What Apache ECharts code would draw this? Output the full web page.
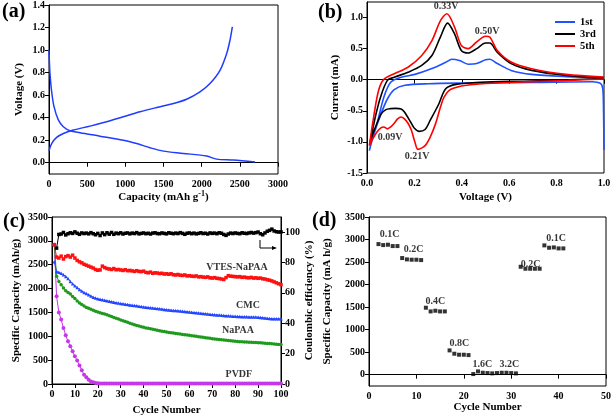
<!DOCTYPE html>
<html><head><meta charset="utf-8">
<script src="https://cdn.jsdelivr.net/npm/echarts@6/dist/echarts.min.js"></script>
<style>html,body{margin:0;padding:0;background:#fff}#c{width:614px;height:418px}</style>
</head><body><div id="c"></div>
<script>
// ---------- Panel (a): charge/discharge profile ----------
const aDisCap = [0, 5, 13, 35, 65, 122, 188, 275, 406, 668, 974, 1148, 1323, 1498, 1760, 2066, 2197, 2415, 2699];
const aDisV   = [1.0, 0.90, 0.79, 0.63, 0.50, 0.38, 0.32, 0.284, 0.266, 0.236, 0.20, 0.17, 0.133, 0.103, 0.083, 0.059, 0.032, 0.024, 0.006];
const aChCap  = [0, 35, 100, 188, 319, 537, 755, 974, 1192, 1410, 1629, 1803, 1978, 2109, 2240, 2328, 2371, 2402];
const aChV    = [0.106, 0.17, 0.225, 0.26, 0.29, 0.325, 0.363, 0.408, 0.452, 0.49, 0.526, 0.564, 0.629, 0.703, 0.82, 0.97, 1.087, 1.205];
const aYTicks = [0, 0.2, 0.4, 0.6, 0.8, 1.0, 1.2, 1.4];

// ---------- Panel (b): cyclic voltammetry ----------
const b1V = [1.0, 0.998, 0.995, 0.985, 0.95, 0.7, 0.4, 0.26, 0.16, 0.115, 0.086, 0.057, 0.028, 0.01,
             0.02, 0.042, 0.071, 0.1, 0.144, 0.202, 0.274, 0.332, 0.358, 0.39, 0.427, 0.463, 0.5, 0.518, 0.55, 0.608, 0.695, 0.84, 1.0];
const b1I = [-1.13, -0.5, -0.15, -0.06, -0.032, -0.043, -0.054, -0.064, -0.09, -0.16, -0.31, -0.57, -0.89, -1.14,
             -0.98, -0.71, -0.28, -0.04, 0.04, 0.086, 0.18, 0.28, 0.33, 0.31, 0.25, 0.26, 0.32, 0.33, 0.26, 0.15, 0.086, 0.05, 0.03];
const b3V = [1.0, 0.695, 0.477, 0.376, 0.332, 0.303, 0.267, 0.245, 0.22, 0.2, 0.187, 0.158, 0.144, 0.12, 0.10, 0.08, 0.06, 0.04, 0.02, 0.012,
             0.035, 0.057, 0.086, 0.115, 0.173, 0.231, 0.274, 0.31, 0.34, 0.369, 0.398, 0.427, 0.463, 0.5, 0.518, 0.55, 0.608, 0.695, 0.84, 1.0];
const b3I = [0.02, -0.02, -0.04, -0.075, -0.145, -0.39, -0.65, -0.80, -0.83, -0.78, -0.70, -0.52, -0.47, -0.46, -0.465, -0.48, -0.55, -0.72, -0.92, -1.03,
             -0.60, -0.28, -0.01, 0.04, 0.12, 0.23, 0.39, 0.69, 0.91, 0.74, 0.47, 0.43, 0.50, 0.59, 0.59, 0.44, 0.26, 0.15, 0.07, 0.03];
const b5V = [1.0, 0.85, 0.695, 0.50, 0.45, 0.39, 0.347, 0.325, 0.31, 0.289, 0.267, 0.245, 0.215, 0.202, 0.187, 0.173, 0.158, 0.144, 0.129, 0.115, 0.10, 0.086, 0.071, 0.06, 0.042, 0.02, 0.01,
             0.028, 0.049, 0.071, 0.115, 0.173, 0.231, 0.274, 0.31, 0.337, 0.369, 0.398, 0.427, 0.463, 0.5, 0.518, 0.55, 0.608, 0.695, 0.84, 1.0];
const b5I = [0.012, -0.01, -0.03, -0.06, -0.075, -0.11, -0.17, -0.28, -0.44, -0.71, -0.92, -1.06, -1.12, -1.0, -0.81, -0.70, -0.63, -0.60, -0.63, -0.70, -0.76, -0.79, -0.76, -0.77, -0.84, -0.98, -1.06,
             -0.60, -0.17, 0.005, 0.096, 0.20, 0.39, 0.63, 0.95, 1.06, 0.85, 0.55, 0.50, 0.61, 0.70, 0.686, 0.47, 0.284, 0.177, 0.086, 0.043];
const bYTicks = [-1.5, -1.0, -0.5, 0, 0.5, 1.0];
const bNotes = ['0.33V', '0.50V', '0.09V', '0.21V'];
const bNoteV = [0.334, 0.507, 0.097, 0.211];
const bNoteI = [1.18, 0.78, -0.925, -1.23];

// ---------- Panel (c): cycling of binders ----------
const cVTES = [2920,2660,2640,2680,2620,2670,2690,2660,2700,2640,2590,2560,2540,2510,2490,2470,2450,2430,2400,2385,
  2390,2470,2440,2420,2410,2400,2420,2395,2400,2390,2380,2395,2375,2380,2370,2360,2375,2360,2355,2365,
  2340,2330,2345,2320,2330,2325,2315,2320,2305,2310,2300,2310,2290,2285,2295,2280,2275,2285,2265,2270,
  2260,2255,2265,2245,2250,2240,2235,2245,2225,2220,2230,2215,2210,2200,2190,2230,2270,2260,2255,2250,
  2245,2250,2235,2240,2230,2225,2235,2220,2225,2215,2220,2205,2200,2185,2175,2160,2140,2120,2100,2080];
const cCMC = [2560,2360,2340,2320,2290,2255,2210,2150,2100,2060,2020,1980,1950,1920,1895,1870,1845,1820,1800,1785,
  1775,1765,1755,1745,1735,1725,1715,1705,1695,1685,1680,1672,1665,1658,1650,1645,1638,1630,1622,1615,
  1610,1603,1598,1592,1586,1580,1575,1570,1563,1557,1553,1548,1543,1538,1533,1528,1524,1518,1513,1508,
  1503,1498,1494,1488,1483,1478,1472,1467,1460,1455,1452,1448,1444,1440,1436,1432,1428,1425,1421,1418,
  1416,1414,1412,1410,1408,1406,1405,1404,1402,1400,1396,1390,1384,1378,1372,1368,1366,1368,1365,1368];
const cNaPAA = [2920,2260,2150,2080,2010,1955,1920,1885,1835,1790,1740,1700,1665,1635,1605,1585,1565,1545,1525,1508,
  1495,1480,1465,1450,1432,1415,1395,1378,1360,1342,1325,1308,1292,1275,1258,1243,1228,1213,1200,1187,
  1176,1166,1157,1148,1138,1128,1118,1108,1098,1089,1081,1074,1067,1060,1053,1047,1040,1033,1026,1020,
  1013,1006,999,992,985,978,971,964,957,950,944,938,932,926,920,915,910,905,899,894,
  891,888,885,882,879,876,873,870,868,866,862,858,855,851,847,843,839,835,830,826];
const cPVDF = [2920,1840,1500,1350,1175,1020,895,790,685,580,490,390,290,195,140,90,55,35,22,15,
  12,11,12,10,11,12,10,11,10,12,11,10,11,12,10,11,10,11,12,10,
  11,10,12,11,10,11,10,12,11,10,11,12,10,11,10,11,12,10,11,10,
  12,11,10,11,10,12,11,10,11,12,10,11,10,11,12,10,11,10,12,11,
  10,11,12,10,11,10,11,12,10,11,10,12,11,10,11,10,12,11,10,11];
const cCE = [null,89.5,98.5,98.8,99.8,98.2,99.0,99.6,99.2,100.2,99.3,98.6,99.5,99.1,99.4,98.9,99.7,99.0,98.3,99.2,
  97.8,99.5,98.4,99.6,98.7,99.8,98.6,99.4,99.0,99.6,98.8,99.3,99.5,98.9,99.4,99.1,99.7,98.9,99.2,99.5,
  99.0,99.3,98.8,99.4,99.6,99.1,99.0,99.5,99.2,98.9,99.6,99.3,99.0,99.4,99.1,99.7,99.2,98.6,99.3,99.5,
  99.0,99.4,98.9,99.2,99.6,99.1,99.3,98.8,99.5,99.2,99.4,99.0,99.6,99.3,98.5,97.9,98.8,99.4,99.1,99.5,
  99.2,99.0,99.6,99.3,99.1,99.5,99.8,99.4,99.7,100.1,99.0,98.3,99.5,100.6,101.2,102.0,100.8,100.3,100.1,100.2];
const cYTicks = [0, 500, 1000, 1500, 2000, 2500, 3000, 3500];
const cY2Ticks = [0, 20, 40, 60, 80, 100];
const cNotes = ['VTES-NaPAA', 'CMC', 'NaPAA', 'PVDF'];
const cNoteX = [80.8, 85.6, 81.2, 81.6];
const cNoteY = [2443, 1641, 1117, 195];

// ---------- Panel (d): rate capability ----------
const dCycle = [2,3,4,5,6,7,8,9,10,11,12,13,14,15,16,17,18,19,20,21,22,23,24,25,26,27,28,29,30,31,32,33,34,35,36,37,38,39,40,41];
const dCap = [2899,2877,2885,2855,2855,2589,2559,2552,2552,2544,1487,1405,1420,1405,1405,540,466,444,444,436,
  15,74,44,37,30,37,44,44,37,30,2396,2352,2352,2352,2352,2870,2818,2825,2803,2803];
const dYTicks = [0, 500, 1000, 1500, 2000, 2500, 3000, 3500];
const dNotes = ['0.1C', '0.2C', '0.4C', '0.8C', '1.6C', '3.2C', '0.2C', '0.1C'];
const dNoteX = [4.35, 9.4, 14.0, 19.05, 23.9, 29.6, 34.1, 39.5];
const dNoteY = [3107, 2790, 1627, 703, 237, 237, 2441, 3018];

// ---------- build ----------
const FONT = 'Liberation Serif';
const zip = (xs, ys) => xs.map((x, i) => [x, ys[i]]);
const idx = arr => arr.map((v, i) => [i + 1, v]);
const notes = (n, xs, ys) => n.map((t, i) => ({ name: t, value: [xs[i], ys[i]] }));
const lbl = { fontFamily: FONT, fontWeight: 'bold', fontSize: 10, color: '#000' };
const nameStyle = { fontFamily: FONT, fontWeight: 'bold', fontSize: 11, color: '#000' };
const line = { show: true, lineStyle: { color: '#000', width: 1 } };
const tick = { show: true, inside: false, length: 4, lineStyle: { color: '#000' } };
const f1 = v => Number(v).toFixed(1);
const f0 = v => String(Math.round(v));

function xAx(grid, min, max, interval, name, gap, fmt) {
  return { type: 'value', gridIndex: grid, min, max, interval, name, nameLocation: 'middle', nameGap: gap,
    nameTextStyle: nameStyle, axisLine: line, axisTick: tick, splitLine: { show: false },
    axisLabel: Object.assign({ margin: 5, formatter: fmt || f0 }, lbl) };
}
function yAx(grid, min, max, ticks, name, gap, fmt, pos) {
  return { type: 'value', gridIndex: grid, min, max, position: pos || 'left', name, nameLocation: 'middle', nameGap: gap,
    nameRotate: 90, nameTextStyle: nameStyle, axisLine: line,
    axisTick: Object.assign({ customValues: ticks }, tick), splitLine: { show: false },
    axisLabel: Object.assign({ margin: 4, customValues: ticks, formatter: fmt || f0 }, lbl) };
}
const noteSeries = (xi, yi, data) => ({ type: 'scatter', xAxisIndex: xi, yAxisIndex: yi, symbolSize: 0, data,
  label: Object.assign({ show: true, position: 'inside', formatter: p => p.name }, lbl), z: 10 });

const option = {
  animation: false,
  grid: [
    { left: 49, top: 5, width: 229, height: 169, show: true, borderColor: '#000', borderWidth: 1 },
    { left: 367, top: 2, width: 237, height: 171, show: true, borderColor: '#000', borderWidth: 1 },
    { left: 52, top: 217, width: 229, height: 167, show: true, borderColor: '#000', borderWidth: 1 },
    { left: 369, top: 217, width: 238, height: 169, show: true, borderColor: '#000', borderWidth: 1 }
  ],
  xAxis: [
    Object.assign(xAx(0, 0, 3000, 500, '{n|Capacity (mAh g}{s|-1}{n|)}', 14), {
      nameTextStyle: { rich: { n: nameStyle, s: Object.assign({}, nameStyle, { fontSize: 8, padding: [0, 0, 7, 0] }) } } }),
    xAx(1, 0, 1, 0.2, 'Voltage (V)', 19, f1),
    xAx(2, 0, 100, 10, 'Cycle Number', 21),
    xAx(3, 0, 50, 10, 'Cycle Number', 15)
  ],
  yAxis: [
    yAx(0, -0.1, 1.4, aYTicks, 'Voltage (V)', 24, f1),
    yAx(1, -1.5, 1.25, bYTicks, 'Current (mA)', 26, f1),
    yAx(2, 0, 3500, cYTicks, 'Specific Capacity (mAh/g)', 30),
    yAx(2, 0, 110, cY2Ticks, 'Coulombic efficiency (%)', 21, undefined, 'right'),
    yAx(3, -250, 3500, dYTicks, 'Specific Capacity (mA h/g)', 36)
  ],
  legend: {
    data: ['1st', '3rd', '5th'], orient: 'vertical', left: 550, top: 11, itemGap: 0,
    itemWidth: 20, itemHeight: 2, icon: 'rect',
    textStyle: Object.assign({ lineHeight: 12 }, lbl, { fontSize: 10.5 })
  },
  graphic: [
    { type: 'text', left: 2, top: 2, style: { text: '(a)', font: 'bold 20px "Liberation Serif"', fill: '#000' } },
    { type: 'text', left: 318, top: 3, style: { text: '(b)', font: 'bold 20px "Liberation Serif"', fill: '#000' } },
    { type: 'text', left: 3, top: 212, style: { text: '(c)', font: 'bold 20px "Liberation Serif"', fill: '#000' } },
    { type: 'text', left: 312, top: 211, style: { text: '(d)', font: 'bold 20px "Liberation Serif"', fill: '#000' } },
    { type: 'polyline', shape: { points: [[260, 240], [260, 248], [274, 248]] }, style: { stroke: '#000', lineWidth: 1, fill: null } },
    { type: 'polygon', shape: { points: [[277, 248], [272, 246], [272, 250]] }, style: { fill: '#000' } }
  ],
  series: [
    { type: 'line', xAxisIndex: 0, yAxisIndex: 0, data: zip(aDisCap, aDisV), smooth: 0.3, showSymbol: false, lineStyle: { color: '#1f3cff', width: 1.5 } },
    { type: 'line', xAxisIndex: 0, yAxisIndex: 0, data: zip(aChCap, aChV), smooth: 0.3, showSymbol: false, lineStyle: { color: '#1f3cff', width: 1.5 } },

    { name: '1st', type: 'line', xAxisIndex: 1, yAxisIndex: 1, data: zip(b1V, b1I), smooth: 0.3, showSymbol: false, color: '#2050ff', lineStyle: { width: 1.6 } },
    { name: '3rd', type: 'line', xAxisIndex: 1, yAxisIndex: 1, data: zip(b3V, b3I), smooth: 0.3, showSymbol: false, color: '#000000', lineStyle: { width: 1.6 } },
    { name: '5th', type: 'line', xAxisIndex: 1, yAxisIndex: 1, data: zip(b5V, b5I), smooth: 0.3, showSymbol: false, color: '#ff0000', lineStyle: { width: 1.6 } },
    noteSeries(1, 1, notes(bNotes, bNoteV, bNoteI)),

    { type: 'line', xAxisIndex: 2, yAxisIndex: 2, data: idx(cPVDF), symbol: 'circle', symbolSize: 4, color: '#c637e8', lineStyle: { width: 1 } },
    { type: 'line', xAxisIndex: 2, yAxisIndex: 2, data: idx(cNaPAA), symbol: 'circle', symbolSize: 3.5, color: '#1f9a1f', lineStyle: { width: 1 } },
    { type: 'line', xAxisIndex: 2, yAxisIndex: 2, data: idx(cCMC), symbol: 'triangle', symbolSize: 3.5, color: '#2244ff', lineStyle: { width: 1 } },
    { type: 'line', xAxisIndex: 2, yAxisIndex: 2, data: idx(cVTES), symbol: 'rect', symbolSize: 3.5, color: '#ff1010', lineStyle: { width: 1 } },
    { type: 'line', xAxisIndex: 2, yAxisIndex: 3, data: idx(cCE), symbol: 'rect', symbolSize: 3.5, color: '#000', lineStyle: { width: 1 }, connectNulls: false },
    noteSeries(2, 2, notes(cNotes, cNoteX, cNoteY)),

    { type: 'scatter', xAxisIndex: 3, yAxisIndex: 4, data: zip(dCycle, dCap), symbol: 'rect', symbolSize: 4, color: '#000' },
    noteSeries(3, 4, notes(dNotes, dNoteX, dNoteY))
  ]
};
const chart = echarts.init(document.getElementById('c'), null, { renderer: 'canvas' });
chart.setOption(option);
</script></body></html>
